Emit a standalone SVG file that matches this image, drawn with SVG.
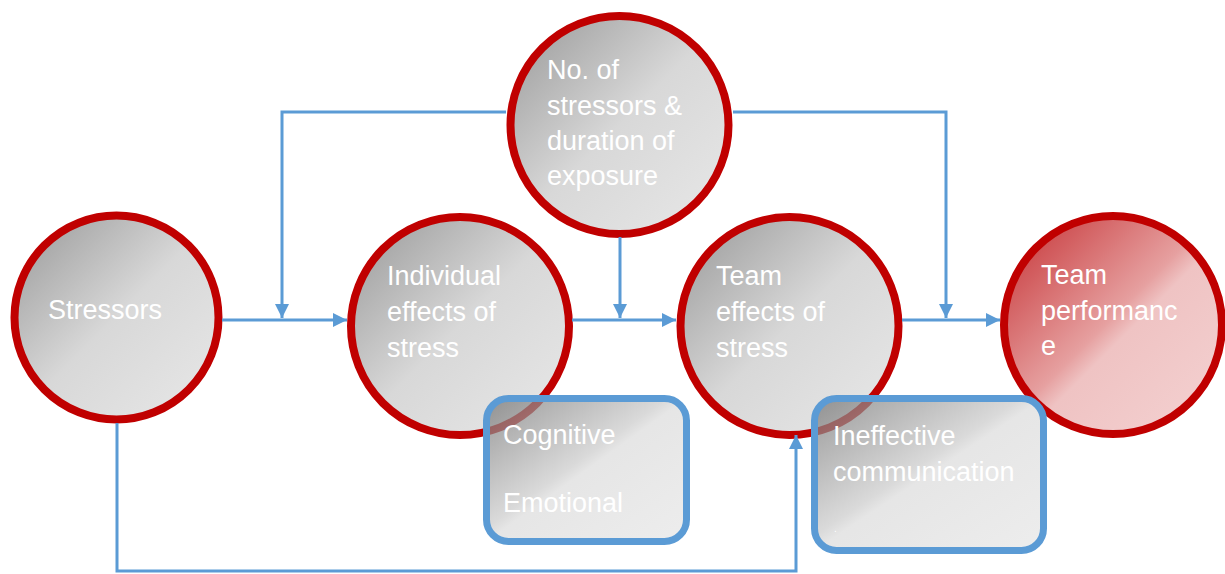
<svg xmlns="http://www.w3.org/2000/svg" width="1225" height="574" viewBox="0 0 1225 574">
<defs>
<linearGradient id="gGray" x1="0" y1="0" x2="1" y2="1">
<stop offset="0" stop-color="#979797"/>
<stop offset="0.5" stop-color="#d8d8d8"/>
<stop offset="1" stop-color="#e8e8e8"/>
</linearGradient>
<linearGradient id="gRed" x1="0" y1="0" x2="1" y2="1">
<stop offset="0" stop-color="#c42e31"/>
<stop offset="0.48" stop-color="#e6a0a0"/>
<stop offset="0.55" stop-color="#efc3c3"/>
<stop offset="1" stop-color="#f4d2d2"/>
</linearGradient>
<linearGradient id="gBox" x1="0" y1="0" x2="1" y2="1">
<stop offset="0" stop-color="#737373"/>
<stop offset="0.45" stop-color="#cbcbcb"/>
<stop offset="0.5" stop-color="#dcdcdc"/>
<stop offset="1" stop-color="#e6e6e6"/>
</linearGradient>
<marker id="arr" viewBox="0 0 10 10" refX="10" refY="5" markerWidth="14" markerHeight="14" markerUnits="userSpaceOnUse" orient="auto">
<path d="M0,0 L10,5 L0,10 z" fill="#5B9BD5"/>
</marker>
<style>
.c{stroke:#C00000;stroke-width:8;fill:url(#gGray)}
.cr{stroke:#C00000;stroke-width:8;fill:url(#gRed)}
.b{stroke:#5B9BD5;stroke-width:7;fill:url(#gBox);fill-opacity:0.72}
.t{font-family:"Liberation Sans",Arial,sans-serif;font-size:27px;fill:#ffffff}
.l{stroke:#5B9BD5;stroke-width:3;fill:none}
</style>
</defs>
<g id="stressors">
<circle class="c" cx="116.5" cy="317.5" r="102"/>
<text class="t" x="48" y="319">Stressors</text>
</g>
<g id="exposure">
<circle class="c" cx="619.5" cy="125" r="109"/>
<text class="t" x="547" y="79">No. of</text>
<text class="t" x="547" y="115">stressors &amp;</text>
<text class="t" x="547" y="150">duration of</text>
<text class="t" x="547" y="185">exposure</text>
</g>
<g id="individual">
<circle class="c" cx="460" cy="326" r="109"/>
<text class="t" x="387" y="285">Individual</text>
<text class="t" x="387" y="321">effects of</text>
<text class="t" x="387" y="357">stress</text>
</g>
<g id="team">
<circle class="c" cx="789.5" cy="326" r="109"/>
<text class="t" x="716" y="285">Team</text>
<text class="t" x="716" y="321">effects of</text>
<text class="t" x="716" y="357">stress</text>
</g>
<g id="performance">
<circle class="cr" cx="1113" cy="325" r="109"/>
<text class="t" x="1041" y="284">Team</text>
<text class="t" x="1041" y="320">performanc</text>
<text class="t" x="1041" y="355">e</text>
</g>
<g id="connectors">
<line class="l" x1="222" y1="320" x2="347" y2="320" marker-end="url(#arr)"/>
<polyline class="l" points="506,112 282,112 282,318" marker-end="url(#arr)"/>
<line class="l" x1="620" y1="237" x2="620" y2="318" marker-end="url(#arr)"/>
<line class="l" x1="572" y1="320" x2="676" y2="320" marker-end="url(#arr)"/>
<polyline class="l" points="733,112 946,112 946,318" marker-end="url(#arr)"/>
<line class="l" x1="902" y1="320" x2="1000" y2="320" marker-end="url(#arr)"/>
<polyline class="l" points="117,423 117,571 796,571 796,435" marker-end="url(#arr)"/>
</g>
<g id="cognitive">
<rect class="b" x="486.5" y="398.5" width="200" height="143" rx="22"/>
<text class="t" x="503" y="444">Cognitive</text>
<text class="t" x="503" y="512">Emotional</text>
</g>
<g id="ineffective">
<rect class="b" x="814.5" y="398.5" width="229" height="152" rx="22"/>
<text class="t" x="833" y="445">Ineffective</text>
<text class="t" x="833" y="481">communication</text>
<text class="t" x="834" y="532" style="font-size:10px">.</text>
</g>
</svg>
